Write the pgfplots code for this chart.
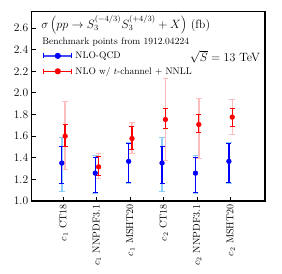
\documentclass[border=0pt]{standalone}
\usepackage{pgfplots}
\usepackage{pgfplotstable}
\pgfplotsset{compat=1.18}
\definecolor{ltblue}{RGB}{140,205,250}
\definecolor{ltred}{RGB}{255,190,190}
\definecolor{legblue}{RGB}{70,70,255}

\pgfplotstableread{
x     y      ep     em
-0.05 1.350  0.155  0.186
0.95  1.257  0.148  0.181
1.95  1.366  0.162  0.192
2.95  1.350  0.155  0.186
3.95  1.257  0.148  0.181
4.95  1.366  0.162  0.192
}\blueinner
\pgfplotstableread{
x     y      ep     em
-0.05 1.350  0.240  0.260
0.95  1.257  0.166  0.189
1.95  1.366  0.177  0.203
2.95  1.350  0.240  0.260
3.95  1.257  0.166  0.189
4.95  1.366  0.177  0.203
}\blueouter
\pgfplotstableread{
x     y      ep     em
0.05  1.599  0.111  0.096
1.05  1.315  0.095  0.077
2.05  1.577  0.111  0.099
3.05  1.753  0.105  0.086
4.05  1.707  0.093  0.077
5.05  1.775  0.083  0.087
}\redinner
\pgfplotstableread{
x     y      ep     em
0.05  1.599  0.318  0.312
1.05  1.315  0.125  0.108
2.05  1.577  0.152  0.136
3.05  1.753  0.383  0.383
4.05  1.707  0.237  0.317
5.05  1.775  0.165  0.158
}\redouter

\begin{document}
\begin{tikzpicture}
\begin{axis}[
  scale only axis, width=233pt, height=189pt,
  xmin=-0.95, xmax=6.03, ymin=1.0, ymax=2.75,
  xtick={0,1,2,3,4,5},
  xticklabels={{$c_1$ CT18},{$c_1$ NNPDF3.1},{$c_1$ MSHT20},{$c_2$ CT18},{$c_2$ NNPDF3.1},{$c_2$ MSHT20}},
  x tick label style={rotate=90, anchor=east, font=\fontsize{10}{12}\selectfont},
  ytick={1.0,1.2,1.4,1.6,1.8,2.0,2.2,2.4,2.6},
  yticklabel style={font=\fontsize{11.5}{13}\selectfont, /pgf/number format/fixed, /pgf/number format/fixed zerofill, /pgf/number format/precision=1},
  /pgf/number format/assume math mode=true,
  tick align=inside, xtick pos=bottom, ytick pos=left, major tick length=4pt,
  axis line style={line width=1.2pt}, tick style={black, line width=0.8pt},
  legend style={at={(0.048,0.80)}, anchor=north west, draw=none, fill=none,
    font=\fontsize{9.5}{11}\selectfont, row sep=3pt, column sep=1pt, inner sep=0pt, cells={anchor=west}},
]
\addplot[only marks, mark=none, color=ltblue, forget plot,
  error bars/.cd, y dir=both, y explicit,
  error bar style={line width=1.4pt, color=ltblue}, error mark options={rotate=90, line width=1.1pt, mark size=2.8pt, color=ltblue}]
  table[x=x, y=y, y error plus=ep, y error minus=em] {\blueouter};
\addplot[only marks, mark=none, color=ltred, forget plot,
  error bars/.cd, y dir=both, y explicit,
  error bar style={line width=1.4pt, color=ltred}, error mark options={rotate=90, line width=1.1pt, mark size=2.8pt, color=ltred}]
  table[x=x, y=y, y error plus=ep, y error minus=em] {\redouter};
\addplot[only marks, mark=*, mark size=2.4pt, color=blue, forget plot,
  error bars/.cd, y dir=both, y explicit,
  error bar style={line width=1.3pt, color=blue}, error mark options={rotate=90, line width=1.1pt, mark size=2.5pt, color=blue}]
  table[x=x, y=y, y error plus=ep, y error minus=em] {\blueinner};
\addplot[only marks, mark=*, mark size=2.4pt, color=red, forget plot,
  error bars/.cd, y dir=both, y explicit,
  error bar style={line width=1.3pt, color=red}, error mark options={rotate=90, line width=1.1pt, mark size=2.5pt, color=red}]
  table[x=x, y=y, y error plus=ep, y error minus=em] {\redinner};
\addlegendimage{color=legblue, line width=1.3pt, legend image code/.code={
  \draw[color=legblue, line width=1.3pt] (0pt,0pt) -- (28pt,0pt);
  \draw[color=blue, line width=1.1pt] (0pt,-2.5pt) -- (0pt,2.5pt) (28pt,-2.5pt) -- (28pt,2.5pt);
  \fill[color=blue] (14pt,0pt) circle (2.4pt);}}
\addlegendentry{NLO-QCD}
\addlegendimage{color=red, line width=1.3pt, legend image code/.code={
  \draw[color=red, line width=1.3pt] (0pt,0pt) -- (28pt,0pt);
  \draw[color=red, line width=1.1pt] (0pt,-2.5pt) -- (0pt,2.5pt) (28pt,-2.5pt) -- (28pt,2.5pt);
  \fill[color=red] (14pt,0pt) circle (2.4pt);}}
\addlegendentry{NLO w/ $t$-channel + NNLL}
\node[anchor=west, font=\fontsize{12}{14}\selectfont, inner sep=0pt] at (rel axis cs:0.04,0.93)
  {$\sigma\left(pp\to S_3^{(-4/3)}S_3^{(+4/3)}+X\right)$ (fb)};
\node[anchor=west, font=\fontsize{9.5}{11}\selectfont, inner sep=0pt] at (rel axis cs:0.045,0.84)
  {Benchmark points from 1912.04224};
\node[anchor=east, font=\fontsize{12}{14}\selectfont, inner sep=0pt] at (rel axis cs:0.979,0.76)
  {$\sqrt{S}=13$ TeV};
\end{axis}
\pgfresetboundingbox
\path[use as bounding box] ([xshift=-31.7pt,yshift=-73pt]current axis.south west) rectangle ([xshift=17pt,yshift=11.7pt]current axis.north east);
\end{tikzpicture}
\end{document}
